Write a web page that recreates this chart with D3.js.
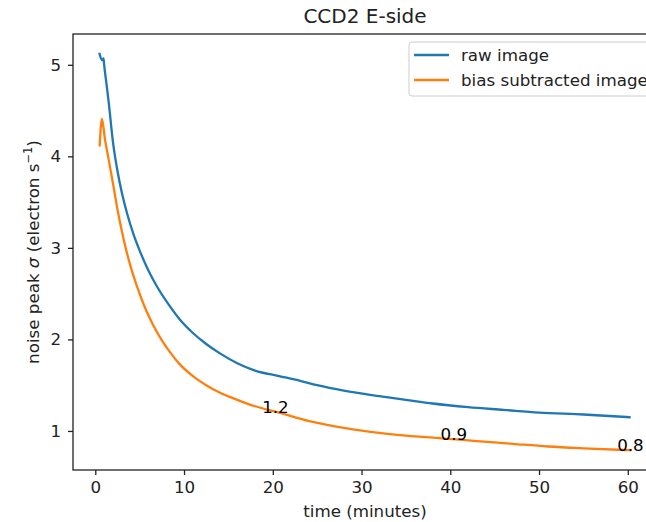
<!DOCTYPE html>
<html>
<head>
<meta charset="utf-8">
<script src="https://cdn.jsdelivr.net/npm/d3@7"></script>
<style>
  body { margin: 0; background: #fff; }
  text { font-family: "DejaVu Sans", sans-serif; }
</style>
</head>
<body>
<div id="chart"></div>
<script>
// values
let rawTime = [0.48, 0.75, 0.93, 1.0, 1.25, 1.5, 2.0, 2.5, 3.0, 3.6, 4.3, 5.0, 6.0, 7.0, 8.2, 9.5,
               11, 12.5, 14, 16, 18, 20.7, 23, 25, 28, 32, 35, 38, 42, 46, 50, 55, 60.2];
let rawNoise = [5.12, 5.05, 5.07, 5.0, 4.80, 4.60, 4.15, 3.84, 3.60, 3.37, 3.15, 2.97, 2.75, 2.57, 2.39, 2.22,
                2.07, 1.95, 1.85, 1.74, 1.66, 1.60, 1.55, 1.50, 1.44, 1.38, 1.34, 1.30, 1.26, 1.23, 1.20, 1.18, 1.15];

let biasTime = [0.5, 0.75, 1.1, 1.5, 2.0, 2.5, 3.0, 3.5, 4.0, 4.7, 5.5, 6.5, 7.5, 8.5, 9.5, 11,
                12.5, 14, 16, 18, 20.7, 24, 27, 31, 35, 39, 43, 47, 51, 55, 60.3];
let biasNoise = [4.12, 4.41, 4.18, 3.97, 3.70, 3.42, 3.18, 2.97, 2.79, 2.58, 2.37, 2.16, 1.99, 1.85, 1.73, 1.60,
                 1.50, 1.42, 1.34, 1.27, 1.20, 1.11, 1.05, 0.99, 0.95, 0.92, 0.89, 0.86, 0.83, 0.81, 0.79];

let noteTime = [18.8, 38.9, 58.8];
let noteNoise = [1.2, 0.9, 0.78];
let noteText = ["1.2", "0.9", "0.8"];

let xTicks = [0, 10, 20, 30, 40, 50, 60];
let yTicks = [1, 2, 3, 4, 5];

let seriesNames = ["raw image", "bias subtracted image"];
let COLORS = ["#1f77b4", "#ff7f0e"];

let width = 646, height = 522;
let mLeft = 73, mRight = 657, mTop = 34, mBottom = 470;
let FONT = "16.7px";

var svg = d3.select("#chart")
            .append("svg")
            .attr("width", width)
            .attr("height", height);

// matplotlib style 5% margins
let allT = rawTime.concat(biasTime);
let allV = rawNoise.concat(biasNoise);
let tMin = d3.min(allT), tMax = d3.max(allT);
let vMin = d3.min(allV), vMax = d3.max(allV);
let tPad = (tMax - tMin) * 0.05, vPad = (vMax - vMin) * 0.05;

let x = d3.scaleLinear().domain([tMin - tPad, tMax + tPad]).range([mLeft, mRight]);
let y = d3.scaleLinear().domain([vMin - vPad, vMax + vPad]).range([mBottom, mTop]);

// AXES
let xAxis = svg.append("g")
    .attr("transform", "translate(0," + mBottom + ")")
    .call(d3.axisBottom(x).tickValues(xTicks).tickSize(5).tickPadding(6).tickSizeOuter(0));
let yAxis = svg.append("g")
    .attr("transform", "translate(" + mLeft + ",0)")
    .call(d3.axisLeft(y).tickValues(yTicks).tickFormat(d3.format("d")).tickSize(5).tickPadding(7).tickSizeOuter(0));

[xAxis, yAxis].forEach(a => {
    a.select(".domain").remove();
    a.selectAll("text").attr("font-size", FONT).attr("fill", "#222")
     .style("font-family", "DejaVu Sans");
    a.selectAll("line").attr("stroke", "#222").attr("stroke-width", 1.3);
});

// LINES
let line = d3.line()
    .x(d => x(d[0]))
    .y(d => y(d[1]))
    .curve(d3.curveMonotoneX);

let series = [d3.zip(rawTime, rawNoise), d3.zip(biasTime, biasNoise)];

svg.append("defs").append("clipPath").attr("id", "plotclip")
   .append("rect").attr("x", mLeft).attr("y", mTop)
   .attr("width", mRight - mLeft).attr("height", mBottom - mTop);

svg.append("g")
   .attr("clip-path", "url(#plotclip)")
   .selectAll("path")
   .data(series)
   .enter().append("path")
   .attr("d", line)
   .attr("fill", "none")
   .attr("stroke", (d, i) => COLORS[i])
   .attr("stroke-width", 2.3)
   .attr("stroke-linejoin", "round")
   .attr("stroke-linecap", "square");

// value notes
svg.append("g")
   .selectAll("text")
   .data(noteText)
   .enter().append("text")
   .attr("x", (d, i) => x(noteTime[i]))
   .attr("y", (d, i) => y(noteNoise[i]))
   .attr("font-size", FONT)
   .attr("fill", "#000")
   .text(d => d);

// SPINES
svg.append("rect")
   .attr("x", mLeft).attr("y", mTop)
   .attr("width", mRight - mLeft).attr("height", mBottom - mTop)
   .attr("fill", "none")
   .attr("stroke", "#222")
   .attr("stroke-width", 1.3);

// TITLES
svg.append("text")
   .attr("x", (mLeft + mRight) / 2)
   .attr("y", 23)
   .attr("text-anchor", "middle")
   .attr("font-size", "20px")
   .attr("fill", "#222")
   .text("CCD2 E-side");

svg.append("text")
   .attr("x", (mLeft + mRight) / 2)
   .attr("y", 517)
   .attr("text-anchor", "middle")
   .attr("font-size", FONT)
   .attr("fill", "#222")
   .text("time (minutes)");

let ylab = svg.append("text")
   .attr("transform", "translate(39," + ((mTop + mBottom) / 2) + ") rotate(-90)")
   .attr("text-anchor", "middle")
   .attr("font-size", FONT)
   .attr("fill", "#222");
ylab.append("tspan").text("noise peak ");
ylab.append("tspan").attr("font-style", "italic").text("σ");
ylab.append("tspan").text(" (electron s");
ylab.append("tspan").attr("dy", -7).attr("font-size", "11.5px").text("−1");
ylab.append("tspan").attr("dy", 7).text(")");

// LEGEND
let legend = svg.append("g");
legend.append("rect")
      .attr("x", 409).attr("y", 42)
      .attr("width", 260).attr("height", 54)
      .attr("rx", 3)
      .attr("fill", "#fff").attr("fill-opacity", 0.8)
      .attr("stroke", "#cccccc").attr("stroke-width", 1);

let items = legend.selectAll(".item")
      .data(seriesNames)
      .enter().append("g")
      .attr("transform", (d, i) => "translate(0," + (55 + i * 25) + ")");
items.append("line")
     .attr("x1", 414).attr("x2", 449)
     .attr("stroke", (d, i) => COLORS[i])
     .attr("stroke-width", 2.3);
items.append("text")
     .attr("x", 461)
     .attr("dy", "0.35em")
     .attr("font-size", FONT)
     .attr("fill", "#222")
     .text(d => d);
</script>
</body>
</html>
